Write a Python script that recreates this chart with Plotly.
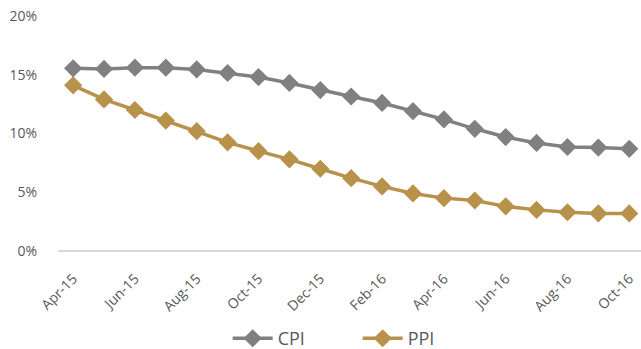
import plotly.graph_objects as go

months = ["Apr-15", "May-15", "Jun-15", "Jul-15", "Aug-15", "Sep-15", "Oct-15",
          "Nov-15", "Dec-15", "Jan-16", "Feb-16", "Mar-16", "Apr-16", "May-16",
          "Jun-16", "Jul-16", "Aug-16", "Sep-16", "Oct-16"]
cpi = [15.55, 15.5, 15.6, 15.6, 15.45, 15.15, 14.8, 14.3, 13.7, 13.15, 12.6,
       11.9, 11.2, 10.4, 9.7, 9.2, 8.85, 8.8, 8.7]
ppi = [14.1, 12.9, 12.0, 11.1, 10.2, 9.25, 8.5, 7.8, 7.0, 6.2, 5.5,
       4.9, 4.5, 4.3, 3.8, 3.5, 3.3, 3.2, 3.2]
shown_ticks = months[::2]
y_ticks = [0, 5, 10, 15, 20]
y_labels = [f"{v}%" for v in y_ticks]

GRAY = "#808080"
GOLD = "#b8924a"
TEXT = "#595959"

fig = go.Figure()
fig.add_trace(go.Scatter(x=months, y=cpi, name="CPI", mode="lines+markers",
                         line=dict(color=GRAY, width=3.5),
                         marker=dict(symbol="diamond", size=14, color=GRAY)))
fig.add_trace(go.Scatter(x=months, y=ppi, name="PPI", mode="lines+markers",
                         line=dict(color=GOLD, width=3.5),
                         marker=dict(symbol="diamond", size=14, color=GOLD)))

fig.update_layout(
    width=641, height=349,
    margin=dict(l=58, r=0, t=16, b=98, autoexpand=False),
    paper_bgcolor="white", plot_bgcolor="white",
    font=dict(family="Open Sans, Liberation Sans, sans-serif", color=TEXT),
    showlegend=True,
    legend=dict(orientation="h", xref="container", x=0.558, xanchor="center",
                yref="container", y=0.03, yanchor="middle",
                font=dict(size=18, color=TEXT), itemwidth=40,
                entrywidth=75, entrywidthmode="pixels"),
    xaxis=dict(type="category", categoryorder="array", categoryarray=months,
               tickmode="array", tickvals=shown_ticks, ticktext=shown_ticks,
               tickangle=-45, tickfont=dict(size=14, color=TEXT),
               showgrid=False, zeroline=False, showline=False,
               ticks="", ticklabelstandoff=16, automargin=False,
               range=[-0.49, 18.38]),
    yaxis=dict(range=[0, 20], tickmode="array", tickvals=y_ticks, ticktext=y_labels,
               tickfont=dict(size=14, color=TEXT), automargin=False,
               showgrid=False, zeroline=True, zerolinecolor="#d9d9d9",
               zerolinewidth=2, showline=False, ticklabelstandoff=20),
)

fig.write_html("out.html")
